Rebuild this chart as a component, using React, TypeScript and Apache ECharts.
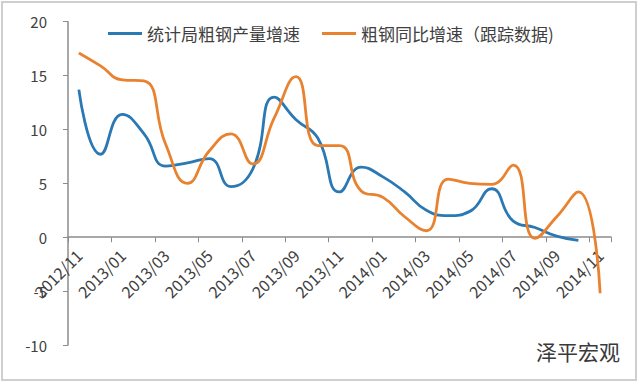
import React, { useEffect, useRef } from "react";
import * as echarts from "echarts";

const categories = [
  "2012/11", "2012/12", "2013/01", "2013/02", "2013/03", "2013/04", "2013/05",
  "2013/06", "2013/07", "2013/08", "2013/09", "2013/10", "2013/11", "2013/12",
  "2014/01", "2014/02", "2014/03", "2014/04", "2014/05", "2014/06", "2014/07",
  "2014/08", "2014/09", "2014/10", "2014/11",
];

const nbsSeriesName = "统计局粗钢产量增速";
const nbsValues = [
  13.7, 7.7, 11.4, 9.6, 6.6, 6.9, 7.3, 4.7, 6.3, 13.0, 10.9, 9.2, 4.2, 6.5,
  5.6, 4.2, 2.5, 2.0, 2.4, 4.5, 1.5, 0.9, 0.1, -0.3, null,
];

const trackSeriesName = "粗钢同比增速（跟踪数据)";
const trackValues = [
  17.1, 15.9, 14.6, 14.5, 8.6, 5.0, 8.0, 9.6, 6.8, 11.1, 14.9, 8.5, 8.5, 4.3,
  3.7, 1.9, 0.6, 5.4, 5.0, 4.9, 6.7, -0.1, 1.9, 4.2, -5.2,
];

const yMin = -10;
const yMax = 20;
const yInterval = 5;
const watermark = "泽平宏观";

export default function App() {
  const ref = useRef<HTMLDivElement>(null);

  useEffect(() => {
    if (!ref.current) return;
    const chart = echarts.init(ref.current, null, { renderer: "svg" });
    const axisColor = "#8c8c8c";
    const textColor = "#404040";
    const gridLeft = 68;
    const gridRight = 29;
    const gridTop = 21.7;
    const gridBottom = 39;
    const plotH = 384 - gridTop - gridBottom;
    const zeroH = (plotH * (yMax - 0)) / (yMax - yMin);
    chart.setOption({
      animation: false,
      backgroundColor: "#ffffff",
      textStyle: { fontFamily: "'Noto Sans CJK SC', 'Noto Sans', sans-serif" },
      legend: {
        left: 103,
        top: 20,
        itemWidth: 34,
        itemHeight: 3,
        itemGap: 22,
        icon: "rect",
        textStyle: { fontSize: 17, color: textColor },
        data: [nbsSeriesName, trackSeriesName],
      },
      grid: [
        {
          left: gridLeft,
          right: gridRight,
          top: gridTop,
          bottom: gridBottom,
          containLabel: false,
          outerBoundsMode: "none",
        },
        {
          left: gridLeft,
          right: gridRight,
          top: gridTop,
          height: zeroH,
          containLabel: false,
          outerBoundsMode: "none",
        },
      ],
      xAxis: [
        {
          type: "category",
          gridIndex: 0,
          data: categories,
          boundaryGap: true,
          show: false,
        },
        {
          type: "category",
          gridIndex: 1,
          data: categories,
          boundaryGap: true,
          position: "bottom",
          axisLine: { onZero: false, lineStyle: { color: axisColor, width: 1.5 } },
          axisTick: { show: true, interval: 1, length: 5, lineStyle: { color: axisColor } },
          axisLabel: {
            interval: 1,
            rotate: 45,
            margin: 15,
            fontSize: 16,
            color: textColor,
          },
          splitLine: { show: false },
        },
      ],
      yAxis: [
        {
          type: "value",
          gridIndex: 0,
          min: yMin,
          max: yMax,
          interval: yInterval,
          axisLine: { show: true, lineStyle: { color: axisColor, width: 1.5 } },
          axisTick: { show: true, length: 5, lineStyle: { color: axisColor } },
          axisLabel: { fontSize: 15, color: textColor, margin: 21 },
          splitLine: { show: false },
        },
        {
          type: "value",
          gridIndex: 1,
          min: 0,
          max: yMax,
          show: false,
          splitLine: { show: false },
        },
      ],
      series: [
        {
          name: nbsSeriesName,
          type: "line",
          xAxisIndex: 0,
          yAxisIndex: 0,
          data: nbsValues,
          smooth: 0.5,
          showSymbol: false,
          symbol: "none",
          lineStyle: { width: 2.8, color: "#2A78B4" },
          itemStyle: { color: "#2A78B4" },
        },
        {
          name: trackSeriesName,
          type: "line",
          xAxisIndex: 0,
          yAxisIndex: 0,
          data: trackValues,
          smooth: 0.5,
          showSymbol: false,
          symbol: "none",
          lineStyle: { width: 2.8, color: "#E9822F" },
          itemStyle: { color: "#E9822F" },
        },
      ],
      graphic: [
        {
          type: "rect",
          shape: { x: 2, y: 2, width: 634, height: 378 },
          style: { fill: "none", stroke: "#cfcfcf", lineWidth: 2 },
          silent: true,
        },
        {
          type: "text",
          right: 20,
          top: 340,
          style: {
            text: watermark,
            fontSize: 21,
            fill: "#3a3a3a",
            fontFamily: "'Noto Sans CJK SC', sans-serif",
          },
          silent: true,
        },
      ],
    });
    return () => chart.dispose();
  }, []);

  return (
    <div
      ref={ref}
      style={{ position: "fixed", left: 0, top: 0, width: 640, height: 384 }}
    />
  );
}
